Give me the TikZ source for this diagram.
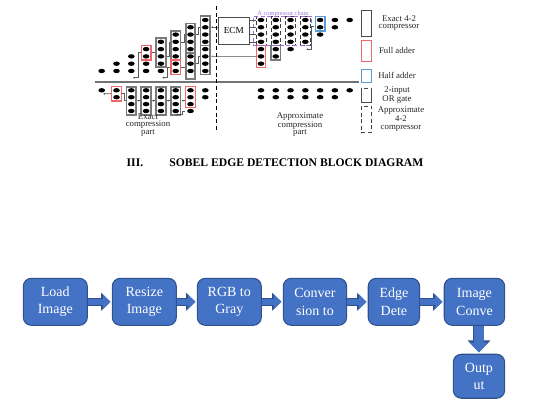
\documentclass[tikz,border=0pt]{standalone}
\usepackage{xcolor}
\usepackage{fontspec}
\setmainfont{Liberation Serif}
\usepackage{tikz}
\usetikzlibrary{arrows.meta,positioning,fit,shapes.geometric}
\definecolor{fillblue}{HTML}{4472C4}
\definecolor{edgeblue}{HTML}{2F528F}
\definecolor{greybox}{HTML}{7A7A7A}
\definecolor{redbox}{HTML}{F0686C}
\definecolor{bluebox}{HTML}{5B9BD5}
\definecolor{chainpurple}{HTML}{A070D8}
\begin{document}
\begin{tikzpicture}[x=.75pt,y=-.75pt,
  block/.style={draw=edgeblue,fill=fillblue,line width=.8pt,rounded corners=6pt,align=center,text=white,
    minimum height=35.25pt,inner sep=0pt,font=\fontsize{10.5}{13.2}\selectfont},
  arr/.style={preaction={draw=edgeblue,line width=6pt,-{Triangle[length=7pt,width=13pt]}},
    draw=fillblue,line width=4.6pt,shorten >=1pt,-{Triangle[length=5.4pt,width=10.4pt]}},
  arrdown/.style={preaction={draw=edgeblue,line width=8.25pt,-{Triangle[length=9pt,width=16.5pt]}},
    draw=fillblue,line width=7pt,shorten >=1pt,-{Triangle[length=7.4pt,width=14pt]}},
  dotm/.style={fill=black,ellipse,minimum width=5pt,minimum height=3.3pt,inner sep=0pt},
  ecbox/.style={draw=greybox,line width=1.3pt,inner sep=.9pt},
  fabox/.style={draw=redbox,line width=1pt,inner sep=.9pt},
  habox/.style={draw=bluebox,line width=1pt,inner sep=.9pt},
  apbox/.style={draw=black!75,densely dashed,line width=.4pt,inner sep=.9pt},
  wire/.style={draw=black!65,line width=.45pt},
  wirearr/.style={wire,-{Latex[length=1.5pt,width=1.5pt]}},
  legbox/.style={line width=.6pt,minimum width=7.5pt,inner sep=0pt},
  lab/.style={align=center,inner sep=0pt,text=black!85,font=\fontsize{6.6}{5.7}\selectfont},
  captxt/.style={inner sep=0pt,font=\fontsize{8.75}{10}\selectfont\bfseries}]
\useasboundingbox (0,0) rectangle (535,403);

% dots, upper rows 0-7 and lower rows 8-11
\foreach \i/\rows in {0/{7,8},1/{6,7,8,9},2/{5,6,7,8,9,10,11},3/{4,5,6,7,8,9,10,11},
    4/{3,4,5,6,7,8,9,10,11},5/{2,3,4,5,6,7,8,9,10,11},6/{1,2,3,4,5,6,7,8,9,10,11},
    7/{0,1,2,3,4,5,6,7,8,9},8/{0,1,2,3,4,5,6,8,9},9/{0,1,2,3,4,5,8,9},10/{0,1,2,3,4,8,9},
    11/{0,1,2,3,8,9},12/{0,1,2,8,9},13/{0,1,8,9},14/{0,8}}{
  \pgfmathsetmacro{\cx}{\i<8 ? 101.7+14.8*\i : 261+14.78*(\i-8)}
  \foreach \r in \rows {
    \pgfmathsetmacro{\cy}{\r<8 ? 20+7.28*\r : 90.3+6.9*(\r-8)}
    \node[dotm] (d\i-\r) at (\cx,\cy) {};
  }
}

% upper part
\node[fabox,fit=(d3-4)(d3-5)] (fa3) {};
\node[ecbox,fit=(d4-3)(d4-6)] (ec4) {};
\node[ecbox,fit=(d5-2)(d5-5)] (ec5) {};
\node[fabox,fit=(d5-6)(d5-7)] (fa5) {};
\node[ecbox,fit=(d6-1)(d6-4)] (ec6) {};
\coordinate (low6) at (190.7,78);
\node[ecbox,fit=(d6-5)(low6)] (ec6b) {};
\node[ecbox,fit=(d7-0)(d7-3)] (ec7) {};
\node[ecbox,fit=(d7-4)(d7-7)] (ec7b) {};
\node[draw=black!70,line width=.6pt,minimum width=23.2pt,minimum height=20.2pt,inner sep=0pt,font=\fontsize{6.9}{7}\selectfont] (ecm) at (233.8,30.8) {ECM};
\foreach \i in {8,9,10,11}{
  \node[apbox,fit=(d\i-0)(d\i-3)] (ap\i) {};
}
\node[fabox,fit=(d8-4)(d8-6)] (fa8) {};
\node[ecbox,fit=(d9-4)(d9-5)] (ec9) {};
\node[habox,fit=(d12-0)(d12-1)] (ha12) {};
\node[draw=chainpurple,densely dashed,line width=.4pt,minimum width=43.5pt,minimum height=21.8pt,inner sep=0pt] (chain) at (282,30.5) {};
\node[inner sep=0pt,text=chainpurple,font=\fontsize{4.8}{5}\selectfont] (chainlab) at (283,14) {A compressor chain};

% lower part
\node[fabox,fit=(d1-8)(d1-9)] (fa1) {};
\foreach \i in {2,3,4,5}{
  \node[ecbox,fit=(d\i-8)(d\i-11)] (ecl\i) {};
}
\node[fabox,fit=(d6-8)(d6-10)] (fa6) {};

% wires
\coordinate (c3) at (132.7,77.7);
\coordinate (c5) at (162,77.7);
\coordinate (c12) at (306,49.3);
\coordinate (c1) at (103,93.8);
\coordinate (c5l) at (175.5,114.5);
\draw[wirearr] (fa3.west) -- ++(-2.5,0) |- (c3);
\draw[wirearr] (fa5.west) -- ++(-2.5,0) |- (c5);
\draw[wire] (fa3.east) -- (ec4.west |- fa3.east);
\draw[wire] (ec4.east |- d4-5) -- ++(2.5,0) |- (ec5.west |- d5-3);
\draw[wire] (ec5.east |- d5-3) -- ++(2.5,0) |- (ec6.west |- d6-2);
\draw[wire] (ec6.east |- d6-2) -- ++(2.5,0) |- (ec7.west |- d7-1);
\draw[wire] (fa5.east) -- (ec6b.west |- fa5.east);
\draw[wire] (ec6b.east |- d6-6) -- ++(2.5,0) |- (ec7b.west |- d7-5);
\draw[wirearr] (ecm.west |- d7-1) -- (ec7.east |- d7-1);
\draw[wirearr,draw=black!45,line width=.7pt] (fa8.west) -- (ec7b.east |- fa8.west);
\foreach \r in {0,1,2,3}{
  \draw[wire] (ap8.west |- d8-\r) -- (ecm.east |- d8-\r);
}
\draw[wirearr] (ha12.west) ++(-.8,3) -- ++(-2.2,0) |- (c12);
\draw[wirearr] (fa1.west) -- (c1);
\draw[wire] (fa1.east) -- ++(2,0) |- (ecl2.west);
\foreach \a/\b in {ecl3/ecl2,ecl4/ecl3,ecl5/ecl4,fa6/ecl5}{
  \draw[wirearr] (\a.west |- ecl3.west) -- (\b.east |- ecl3.east);
}
\draw[wirearr] (fa6.west |- d6-11) -- ++(-3,0) |- (c5l);

% rules
\node[inner sep=0pt] (hleft) at (94,81.7) {};
\node[inner sep=0pt] (hright) at (359.5,81.7) {};
\draw[draw=black!55,line width=1.3pt] (hleft) -- (hright);
\node[inner sep=0pt] (vtop) at (216.3,5) {};
\node[inner sep=0pt] (vbot) at (216.3,133) {};
\draw[densely dashed,line width=.5pt] (vtop) -- (vbot);

% legend
\node[legbox,draw=black!70,minimum height=19.5pt] (legec) at (366.3,23) {};
\node[legbox,draw=redbox,minimum height=15.5pt] (legfa) at (366.3,51) {};
\node[legbox,draw=bluebox,minimum height=9.75pt] (legha) at (366.3,75.8) {};
\node[legbox,draw=black!70,densely dashed,minimum height=10.2pt] (legor) at (366.3,95.5) {};
\draw[line width=.6pt,draw=black!70] (legor.north west) -- (legor.south west) -- (legor.south east) -- (legor.north east);
\node[legbox,draw=black!75,densely dashed,minimum height=20pt] (legap) at (366.3,119.3) {};
\node[lab] (lab1) at (399,23.2) {Exact 4-2\\compressor};
\node[lab] (lab2) at (397,50.7) {Full adder};
\node[lab] (lab3) at (397,75.7) {Half adder};
\node[lab] (lab4) at (397,95.3) {2-input\\OR gate};
\node[lab] (lab5) at (401,119.3) {Approximate\\4-2\\compressor};
\node[lab] (lab6) at (148,125) {Exact\\compression\\part};
\node[lab] (lab7) at (300,124.5) {Approximate\\compression\\part};

% caption
\node[captxt,anchor=base east] (capnum) at (143.5,166) {III.};
\node[captxt,anchor=base west] (captitle) at (169,166) {SOBEL EDGE DETECTION BLOCK DIAGRAM};

% flow
\node[block,minimum width=48pt] (load) at (55.3,301.8) {Load\\Image};
\node[block,minimum width=48pt,right=17.95pt of load] (resize) {Resize\\Image};
\node[block,minimum width=48pt,right=14.95pt of resize] (gray) {RGB to\\Gray};
\node[block,minimum width=47.5pt,right=15.7pt of gray] (conv) {Conver\\sion to};
\node[block,minimum width=38.5pt,right=15.4pt of conv] (edge) {Edge\\Dete};
\node[block,minimum width=45.3pt,right=17.7pt of edge] (imgconv) {Image\\Conve};
\node[block,minimum width=38.5pt,minimum height=33pt,below=20.9pt of imgconv.south east,anchor=north east] (output) {Outp\\ut};
\draw[arr] (load) -- (resize);
\draw[arr] (resize) -- (gray);
\draw[arr] (gray) -- (conv);
\draw[arr] (conv) -- (edge);
\draw[arr] (edge) -- (imgconv);
\draw[arrdown] (imgconv.south -| output) -- (output);
\end{tikzpicture}
\end{document}
